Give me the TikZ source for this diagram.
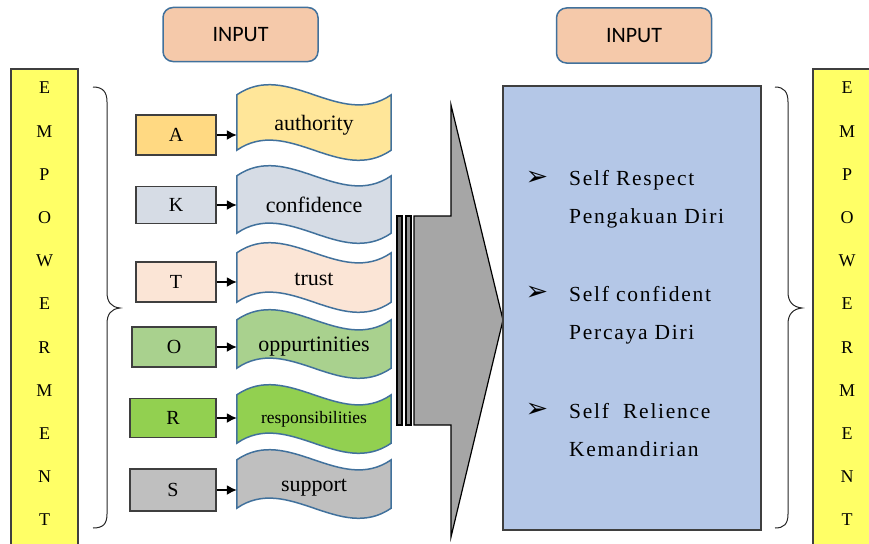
\documentclass[tikz,border=0pt]{standalone}
\usepackage{fontspec}
\setmainfont{Liberation Serif}
\newfontfamily\inpfont{Carlito}
\newfontfamily\bulfont{DejaVu Sans}
\newfontfamily\trackfont[LetterSpace=8]{Liberation Serif}
\usetikzlibrary{arrows.meta, calc, positioning, backgrounds}
\definecolor{waveblue}{HTML}{41719C}
\definecolor{edgegray}{HTML}{3F3F3F}
\definecolor{peach}{HTML}{F5C9AA}
\definecolor{baryellow}{HTML}{FFFF66}
\definecolor{outblue}{HTML}{B4C7E7}
\definecolor{cA}{HTML}{FFD982}
\definecolor{wA}{HTML}{FFE699}
\definecolor{cK}{HTML}{D6DCE5}
\definecolor{cT}{HTML}{FBE5D6}
\definecolor{cO}{HTML}{A9D18E}
\definecolor{cR}{HTML}{92D050}
\definecolor{cS}{HTML}{BFBFBF}

% wavy banner drawn behind node #1
\newcommand{\flag}[2]{%
  \begin{pgfonlayer}{background}
  \draw[wave, fill=#2] (#1.north west)
    .. controls ([xshift=51pt,yshift=35pt]#1.north west) and ([xshift=-51pt,yshift=-35pt]#1.north east) .. (#1.north east)
    -- (#1.south east)
    .. controls ([xshift=-51pt,yshift=-35pt]#1.south east) and ([xshift=51pt,yshift=35pt]#1.south west) .. (#1.south west)
    -- cycle;
  \end{pgfonlayer}}

\begin{document}
\begin{tikzpicture}[x=1pt, y=-1pt,% styles used in image code
          > = {Latex[length=10pt,width=10pt]}, % defined in "arrows.meta"
inbox/.style = {draw=waveblue, line width=1.5pt, fill=peach, rounded corners=10pt,
               minimum width=155pt, minimum height=54pt, font=\inpfont\fontsize{22}{22}\selectfont},
bar/.style   = {draw=edgegray, line width=1.2pt, fill=baryellow},
letter/.style = {font=\fontsize{18}{18}\selectfont, inner sep=0pt},
key/.style   = {draw=edgegray, line width=1.2pt, minimum width=80pt, minimum height=40pt,
               inner sep=0pt, text height=14pt, text depth=1pt, font=\fontsize{20}{20}\selectfont},
word/.style  = {minimum width=154pt, inner sep=0pt, text height=18pt, text depth=3pt,
               font=\fontsize{22}{22}\selectfont},
wave/.style  = {draw=waveblue, line width=1.5pt},
link/.style  = {->, line width=1.5pt},
brace/.style = {line width=1pt, black!85},
item/.style  = {align=left, inner sep=0pt, anchor=base west,
               font=\trackfont\fontsize{21.5}{38.5}\selectfont},
bul/.style   = {inner sep=0pt, font=\bulfont\fontsize{27}{27}\selectfont}
                    ]
\useasboundingbox (0,0) rectangle (869,543);

	% input headers
	\node[inbox] (in1) at (240.5,34.5) {INPUT};
	\node[inbox, minimum height=55pt] (in2) at (634,35.5) {INPUT};

	% yellow bars
	\draw[bar] (11,69) rectangle (78,560);
	\draw[bar] (813,69) rectangle (890,560);
	\foreach \l [count=\i] in {E,M,P,O,W,E,R,M,E,N,T} {
		\node[letter] (eL\i) at (44.5, 88+43.2*\i-43.2) {\l};
		\node[letter] (eR\i) at (847, 88+43.2*\i-43.2) {\l};
	}

	% braces
	\draw[brace] (93,87) .. controls (103,87) and (107,92) .. (107,102) -- (107,292)
		.. controls (107,302) and (111,307) .. (120,308)
		.. controls (111,309) and (107,314) .. (107,324) -- (107,514)
		.. controls (107,524) and (103,528) .. (93,528);
	\draw[brace] (775,87) .. controls (784,87) and (788,92) .. (788,102) -- (788,292)
		.. controls (788,302) and (793,307) .. (802,308)
		.. controls (793,309) and (788,314) .. (788,324) -- (788,514)
		.. controls (788,524) and (784,528) .. (775,528);

	% key letters
	\node[key, fill=cA] (A) at (176,135) {A};
	\node[key, fill=cK, minimum height=37pt] (K) at (176,205) {K};
	\node[key, fill=cT] (T) at (176,282) {T};
	\node[key, fill=cO, minimum width=84pt] (O) at (174,347) {O};
	\node[key, fill=cR, minimum width=86pt, minimum height=39pt] (R) at (173,418) {R};
	\node[key, fill=cS, minimum width=86pt, minimum height=42pt] (S) at (173,490) {S};

	% banners
	\node[word, minimum height=55pt] (wauth) at (314,122.5) {authority};
	\node[word, minimum height=57pt] (wconf) at (314,204.5) {confidence};
	\node[word, minimum height=49pt] (wtrust) at (314,277.5) {trust};
	\node[word, minimum height=48pt] (wopp) at (314,344) {oppurtinities};
	\node[word, minimum height=48pt, text height=14pt, text depth=6pt,
		font=\fontsize{17.5}{17.5}\selectfont] (wresp) at (314,419) {responsibilities};
	\node[word, minimum height=48pt] (wsup) at (314,484) {support};
	\flag{wauth}{wA}
	\flag{wconf}{cK}
	\flag{wtrust}{cT}
	\flag{wopp}{cO}
	\flag{wresp}{cR}
	\flag{wsup}{cS}

	\draw[link] (A.east) -- (A.east -| wauth.west);
	\draw[link] (K.east) -- (K.east -| wconf.west);
	\draw[link] (T.east) -- (T.east -| wtrust.west);
	\draw[link] (O.east) -- (O.east -| wopp.west);
	\draw[link] (R.east) -- (R.east -| wresp.west);
	\draw[link] (S.east) -- (S.east -| wsup.west);

	% big arrow
	\draw[line width=1.2pt, fill=black!35] (414,216) -- (451,216) -- (451,105) -- (503,320)
		-- (451,537) -- (451,425) -- (414,425) -- cycle;
	\draw[line width=1.2pt, fill=black!60] (397,216) rectangle (402,425);
	\draw[line width=1.2pt, fill=black!45] (406,216) rectangle (411,425);

	% output box
	\node[draw=edgegray, line width=1.2pt, fill=outblue, minimum width=258pt,
		minimum height=444pt] (out) at (632,308) {};
	\node[bul] (b1) at (537,178) {➢};
	\node[bul] (b2) at (537,293.5) {➢};
	\node[bul] (b3) at (537,410) {➢};
	\node[item] (t1) at (569,223.5) {Self Respect\\Pengakuan Diri};
	\node[item] (t2) at (569,339.5) {Self confident\\Percaya Diri};
	\node[item] (t3) at (569,456.5) {Self~ Relience\\Kemandirian};
\end{tikzpicture}
\end{document}
